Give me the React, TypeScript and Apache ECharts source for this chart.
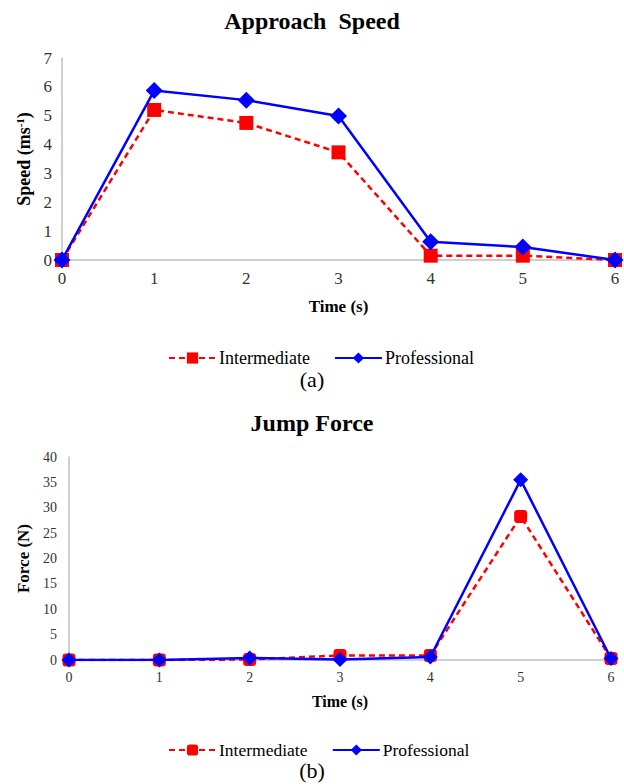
import React, { useEffect, useRef } from "react";
import * as echarts from "echarts";

const timeTicks = [0, 1, 2, 3, 4, 5, 6];
const speedIntermediate = [0, 5.2, 4.75, 3.73, 0.15, 0.15, 0];
const speedProfessional = [0, 5.87, 5.54, 4.99, 0.63, 0.45, 0];
const forceIntermediate = [0, 0, 0.1, 0.9, 0.9, 28.3, 0.3];
const forceProfessional = [0, 0, 0.4, 0.1, 0.6, 35.5, 0.3];

const FONT = "'Liberation Serif', 'Times New Roman', serif";
const RED = "#ff0000";
const BLUE = "#0000ff";
const AXIS_GRAY = "#bfbfbf";

const pairs = (ys: number[]) => timeTicks.map((t, i) => [t, ys[i]]);

export default function App() {
  const ref = useRef<HTMLDivElement>(null);
  useEffect(() => {
    if (!ref.current) return;
    const chart = echarts.init(ref.current, undefined, { renderer: "svg" });
    const xAxisBase = (gridIndex: number, fs: number, nfs: number, gap: number) => ({
      type: "value",
      gridIndex,
      min: 0,
      max: 6,
      interval: 1,
      name: "Time (s)",
      nameLocation: "middle",
      nameGap: gap,
      nameTextStyle: { fontFamily: FONT, fontWeight: "bold", fontSize: nfs, color: "#000" },
      axisLine: { show: true, onZero: true, lineStyle: { color: AXIS_GRAY, width: 1.5 } },
      axisTick: { show: false },
      splitLine: { show: false },
      axisLabel: { fontFamily: FONT, fontSize: fs, color: "#333", margin: 10 },
    });
    chart.setOption({
      animation: false,
      title: [
        {
          text: "Approach  Speed",
          left: "center",
          top: 4,
          textStyle: { fontFamily: FONT, fontWeight: "bold", fontSize: 24, color: "#000" },
        },
        {
          text: "Jump Force",
          left: "center",
          top: 406,
          textStyle: { fontFamily: FONT, fontWeight: "bold", fontSize: 24, color: "#000" },
        },
      ],
      legend: [
        {
          data: ["Intermediate", "Professional"],
          left: 163,
          top: 344,
          itemWidth: 47,
          itemHeight: 14,
          itemGap: 24,
          textStyle: { fontFamily: FONT, fontSize: 18, color: "#000", padding: [0, 0, 0, -2] },
        },
        {
          data: ["Intermediate ", "Professional "],
          left: 163,
          top: 736,
          itemWidth: 47,
          itemHeight: 14,
          itemGap: 20,
          textStyle: { fontFamily: FONT, fontSize: 17.5, color: "#000", padding: [0, 0, 0, -2] },
        },
      ],
      graphic: [
        {
          type: "text",
          left: "center",
          top: 368,
          style: { text: "(a)", fontFamily: FONT, fontSize: 22, fill: "#000" },
        },
        {
          type: "text",
          left: "center",
          top: 759,
          style: { text: "(b)", fontFamily: FONT, fontSize: 22, fill: "#000" },
        },
      ],
      grid: [
        { left: 62, right: 9, top: 58, bottom: 524 },
        { left: 69, right: 13, top: 457, bottom: 124 },
      ],
      xAxis: [xAxisBase(0, 17, 17, 38), xAxisBase(1, 14, 16, 33)],
      yAxis: [
        {
          type: "value",
          gridIndex: 0,
          min: 0,
          max: 7,
          interval: 1,
          name: "Speed (ms{sup|-1})",
          nameLocation: "middle",
          nameGap: 28,
          nameTextStyle: {
            fontFamily: FONT,
            fontWeight: "bold",
            fontSize: 18,
            color: "#000",
            rich: {
              sup: { fontFamily: FONT, fontWeight: "bold", fontSize: 11, verticalAlign: "top", padding: [0, 0, 7, 0], color: "#000" },
            },
          },
          axisLine: { show: true, lineStyle: { color: AXIS_GRAY, width: 1.5 } },
          axisTick: { show: false },
          splitLine: { show: false },
          axisLabel: { fontFamily: FONT, fontSize: 17, color: "#333", margin: 10 },
        },
        {
          type: "value",
          gridIndex: 1,
          min: 0,
          max: 40,
          interval: 5,
          name: "Force (N)",
          nameLocation: "middle",
          nameGap: 33,
          nameTextStyle: { fontFamily: FONT, fontWeight: "bold", fontSize: 17, color: "#000" },
          axisLine: { show: true, lineStyle: { color: AXIS_GRAY, width: 1.5 } },
          axisTick: { show: false },
          splitLine: { show: false },
          axisLabel: { fontFamily: FONT, fontSize: 14, color: "#333", margin: 12 },
        },
      ],
      series: [
        {
          name: "Intermediate",
          type: "line",
          xAxisIndex: 0,
          yAxisIndex: 0,
          data: pairs(speedIntermediate),
          symbol: "rect",
          symbolSize: 14,
          itemStyle: { color: RED },
          lineStyle: { color: RED, width: 2.5, type: [6, 4] },
          z: 2,
        },
        {
          name: "Professional",
          type: "line",
          xAxisIndex: 0,
          yAxisIndex: 0,
          data: pairs(speedProfessional),
          symbol: "diamond",
          symbolSize: 17,
          itemStyle: { color: BLUE },
          lineStyle: { color: BLUE, width: 2.5 },
          z: 3,
        },
        {
          name: "Intermediate ",
          type: "line",
          xAxisIndex: 1,
          yAxisIndex: 1,
          data: pairs(forceIntermediate),
          symbol: "roundRect",
          symbolSize: 13,
          itemStyle: { color: RED },
          lineStyle: { color: RED, width: 2.5, type: [6, 4] },
          z: 2,
        },
        {
          name: "Professional ",
          type: "line",
          xAxisIndex: 1,
          yAxisIndex: 1,
          data: pairs(forceProfessional),
          symbol: "diamond",
          symbolSize: 15,
          itemStyle: { color: BLUE },
          lineStyle: { color: BLUE, width: 2.5 },
          z: 3,
        },
      ],
    });
    return () => chart.dispose();
  }, []);
  return (
    <div
      ref={ref}
      style={{ position: "absolute", left: 0, top: 0, width: 624, height: 784, background: "#fff" }}
    />
  );
}
